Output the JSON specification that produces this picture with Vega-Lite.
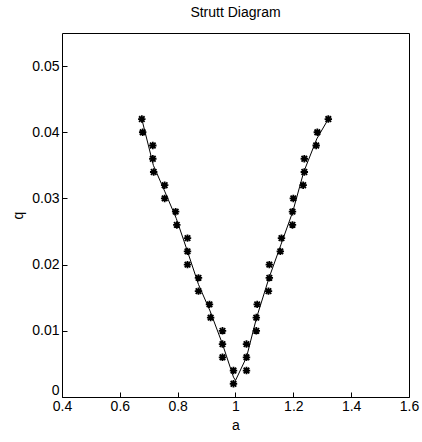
{
  "$schema": "https://vega.github.io/schema/vega-lite/v6.json",
  "autosize": {"type": "none"},
  "width": 347,
  "height": 364,
  "padding": {"left": 62, "top": 33, "right": 13, "bottom": 45},
  "background": "white",
  "title": {"text": "Strutt Diagram", "font": "Liberation Sans", "fontSize": 14, "fontWeight": "normal", "color": "black", "offset": 13},
  "config": {
    "view": {"stroke": "black", "strokeWidth": 1},
    "axis": {"grid": false, "domain": false, "tickColor": "black", "tickSize": -5, "labelFont": "Liberation Sans", "labelFontSize": 14, "labelColor": "black", "titleFont": "Liberation Sans", "titleFontSize": 14, "titleFontWeight": "normal", "titleColor": "black"}
  },
  "datasets": {
    "pts": [
      {"a": 0.676, "q": 0.042}, {"a": 0.679, "q": 0.040}, {"a": 0.714, "q": 0.038}, {"a": 0.714, "q": 0.036}, {"a": 0.717, "q": 0.034},
      {"a": 0.755, "q": 0.032}, {"a": 0.755, "q": 0.030}, {"a": 0.793, "q": 0.028}, {"a": 0.797, "q": 0.026}, {"a": 0.834, "q": 0.024},
      {"a": 0.834, "q": 0.022}, {"a": 0.834, "q": 0.020}, {"a": 0.872, "q": 0.018}, {"a": 0.872, "q": 0.016}, {"a": 0.910, "q": 0.014},
      {"a": 0.914, "q": 0.012}, {"a": 0.955, "q": 0.010}, {"a": 0.955, "q": 0.008}, {"a": 0.955, "q": 0.006}, {"a": 0.993, "q": 0.004},
      {"a": 0.993, "q": 0.002},
      {"a": 1.038, "q": 0.004}, {"a": 1.038, "q": 0.006}, {"a": 1.038, "q": 0.008}, {"a": 1.072, "q": 0.010}, {"a": 1.072, "q": 0.012},
      {"a": 1.075, "q": 0.014}, {"a": 1.114, "q": 0.016}, {"a": 1.117, "q": 0.018}, {"a": 1.117, "q": 0.020}, {"a": 1.155, "q": 0.022},
      {"a": 1.159, "q": 0.024}, {"a": 1.197, "q": 0.026}, {"a": 1.197, "q": 0.028}, {"a": 1.200, "q": 0.030}, {"a": 1.234, "q": 0.032},
      {"a": 1.238, "q": 0.034}, {"a": 1.238, "q": 0.036}, {"a": 1.279, "q": 0.038}, {"a": 1.283, "q": 0.040}, {"a": 1.321, "q": 0.042}
    ],
    "curve": [
      {"o": 1, "a": 0.676, "q": 0.042}, {"o": 2, "a": 0.716, "q": 0.035}, {"o": 3, "a": 0.756, "q": 0.031}, {"o": 4, "a": 0.795, "q": 0.027},
      {"o": 5, "a": 0.834, "q": 0.022}, {"o": 6, "a": 0.872, "q": 0.017}, {"o": 7, "a": 0.912, "q": 0.013}, {"o": 8, "a": 0.955, "q": 0.008},
      {"o": 9, "a": 0.993, "q": 0.003}, {"o": 10, "a": 1.0, "q": 0.0025}, {"o": 11, "a": 1.038, "q": 0.006}, {"o": 12, "a": 1.073, "q": 0.012},
      {"o": 13, "a": 1.116, "q": 0.018}, {"o": 14, "a": 1.157, "q": 0.023}, {"o": 15, "a": 1.198, "q": 0.028}, {"o": 16, "a": 1.236, "q": 0.034},
      {"o": 17, "a": 1.281, "q": 0.039}, {"o": 18, "a": 1.321, "q": 0.042}
    ]
  },
  "layer": [
    {
      "data": {"name": "curve"},
      "mark": {"type": "line", "color": "black", "strokeWidth": 1},
      "encoding": {
        "x": {"field": "a", "type": "quantitative", "scale": {"domain": [0.4, 1.6], "nice": false, "zero": false}, "axis": {"title": "a", "values": [0.4, 0.6, 0.8, 1, 1.2, 1.4, 1.6], "format": "~g", "labelPadding": 7, "titlePadding": 5, "labelFlush": false}},
        "y": {"field": "q", "type": "quantitative", "scale": {"domain": [0, 0.055], "nice": false}, "axis": {"title": "q", "values": [0, 0.01, 0.02, 0.03, 0.04, 0.05], "format": ".2~f", "labelPadding": 8, "titlePadding": 6, "labelFlush": false, "labelBaseline": {"condition": {"test": "datum.value === 0", "value": "bottom"}, "value": "middle"}}},
        "order": {"field": "o"}
      }
    },
    {
      "data": {"name": "pts"},
      "mark": {"type": "point", "shape": "M-1,0L1,0M0,-1L0,1M-0.75,-0.75L0.75,0.75M-0.75,0.75L0.75,-0.75", "size": 55, "stroke": "black", "strokeWidth": 1.8, "filled": false, "opacity": 1},
      "encoding": {
        "x": {"field": "a", "type": "quantitative"},
        "y": {"field": "q", "type": "quantitative"}
      }
    }
  ]
}
